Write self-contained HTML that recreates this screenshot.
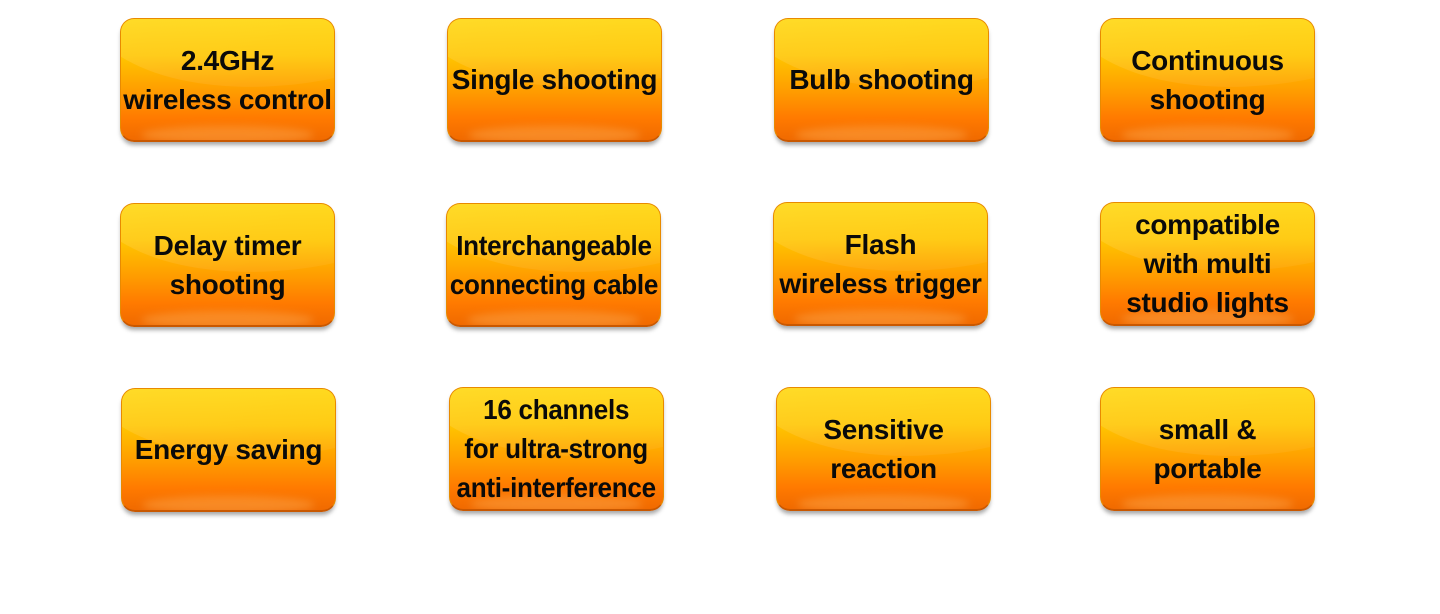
<!DOCTYPE html>
<html><head><style>
body{margin:0;width:1440px;height:614px;background:#fff;position:relative;overflow:hidden;font-family:"Liberation Sans",sans-serif}
.b{position:absolute;width:215px;height:124px;border-radius:14px;box-sizing:border-box;
background:linear-gradient(180deg,#ffd400 0%,#ffc600 30%,#ff9c00 60%,#ff7a00 82%,#f06a00 100%);
border:1px solid #e88a00;border-bottom:2px solid #c95800;
box-shadow:0 4px 4px -1px rgba(0,0,0,0.35);overflow:hidden;display:flex;align-items:center;justify-content:center}
.b:before{content:"";position:absolute;left:-40px;top:-150px;width:420px;height:215px;border-radius:50%;
background:linear-gradient(180deg,rgba(255,255,255,0.3),rgba(255,255,255,0.05));transform:rotate(-8deg)}
.b:after{content:"";position:absolute;left:20px;right:20px;bottom:-4px;height:18px;border-radius:50%;background:rgba(255,180,90,0.4);filter:blur(4px)}
.t{position:relative;z-index:1;text-align:center;font-weight:bold;font-size:28px;line-height:39px;color:#0a0a0a;white-space:nowrap;letter-spacing:-0.3px}
.n{transform:scaleX(0.93)}
</style></head><body>
<div class="b" style="left:120px;top:18px"><div class="t">2.4GHz<br>wireless control</div></div>
<div class="b" style="left:447px;top:18px"><div class="t">Single shooting</div></div>
<div class="b" style="left:774px;top:18px"><div class="t">Bulb shooting</div></div>
<div class="b" style="left:1100px;top:18px"><div class="t">Continuous<br>shooting</div></div>
<div class="b" style="left:120px;top:203px"><div class="t">Delay timer<br>shooting</div></div>
<div class="b" style="left:446px;top:203px"><div class="t n">Interchangeable<br>connecting cable</div></div>
<div class="b" style="left:773px;top:202px"><div class="t">Flash<br>wireless trigger</div></div>
<div class="b" style="left:1100px;top:202px"><div class="t">compatible<br>with multi<br>studio lights</div></div>
<div class="b" style="left:121px;top:388px"><div class="t">Energy saving</div></div>
<div class="b" style="left:449px;top:387px"><div class="t n">16 channels<br>for ultra-strong<br>anti-interference</div></div>
<div class="b" style="left:776px;top:387px"><div class="t">Sensitive<br>reaction</div></div>
<div class="b" style="left:1100px;top:387px"><div class="t">small &amp;<br>portable</div></div>
</body></html>
